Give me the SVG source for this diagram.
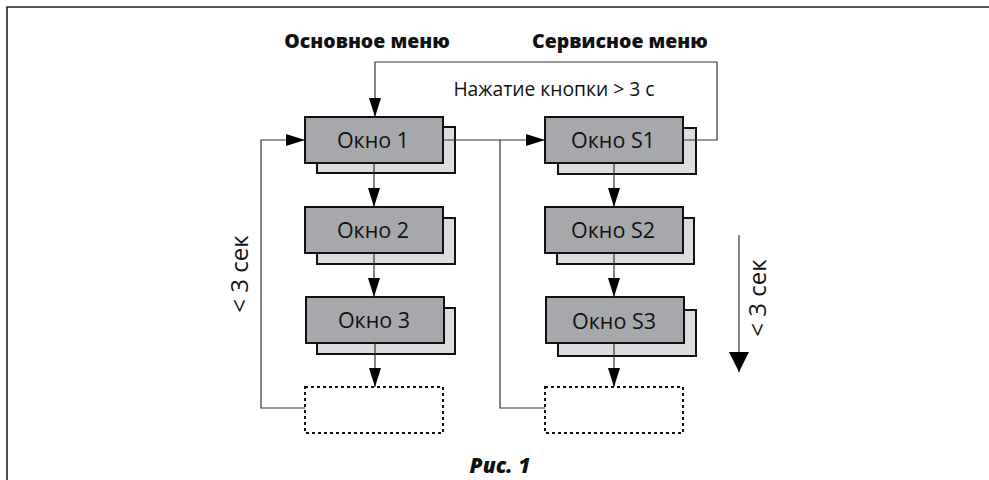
<svg xmlns="http://www.w3.org/2000/svg" width="989" height="480" viewBox="0 0 989 480">
  <style>
    .front { fill: #a7a8ab; stroke: #111; stroke-width: 2; }
    .back { fill: #dcdddf; stroke: #111; stroke-width: 2; }
    .empty { fill: #fff; stroke: #111; stroke-width: 2; stroke-dasharray: 3 3; }
    .wire { fill: none; stroke: #333; stroke-width: 1.2; }
    .lbl { font-family: "Open Sans", "Noto Sans", sans-serif; font-size: 21.5px; fill: #111; text-anchor: middle; }
    .side { font-family: "Open Sans", "Noto Sans", sans-serif; font-size: 24px; fill: #111; text-anchor: middle; }
    .note { font-family: "Open Sans", "Noto Sans", sans-serif; font-size: 19.3px; fill: #111; text-anchor: middle; }
    .title { font-family: "Open Sans", "Noto Sans", sans-serif; font-size: 19.5px; font-weight: 800; fill: #111; text-anchor: middle; }
    .cap { font-family: "Open Sans", "Noto Sans", sans-serif; font-size: 21px; font-weight: 800; font-style: italic; fill: #111; text-anchor: middle; }
  </style>
  <defs>
    <marker id="arr" markerUnits="userSpaceOnUse" markerWidth="19" markerHeight="12" refX="19" refY="6" orient="auto">
      <path d="M0,0 L19,6 L0,12 z" fill="#000"/>
    </marker>
    <marker id="arrBig" markerUnits="userSpaceOnUse" markerWidth="20" markerHeight="20" refX="20" refY="10" orient="auto">
      <path d="M0,0 L20,10 L0,20 z" fill="#000"/>
    </marker>
  </defs>

  <rect width="989" height="480" fill="#fff"/>
  <!-- outer frame -->
  <path d="M7,480 V7 H989" fill="none" stroke="#222" stroke-width="1.6"/>

  <!-- column titles -->
  <text class="title" x="367" y="48">Основное меню</text>
  <text class="title" x="620" y="48">Сервисное меню</text>

  <!-- main menu windows -->
  <g id="w1">
    <rect class="back" x="317" y="127" width="138" height="46"/>
    <rect class="front" x="305" y="117" width="138" height="46"/>
    <text class="lbl" x="373" y="148">Окно 1</text>
  </g>
  <g id="w2">
    <rect class="back" x="317" y="218" width="138" height="46"/>
    <rect class="front" x="305" y="207" width="138" height="46"/>
    <text class="lbl" x="373" y="238">Окно 2</text>
  </g>
  <g id="w3">
    <rect class="back" x="317" y="308" width="138" height="46"/>
    <rect class="front" x="306" y="297" width="138" height="46"/>
    <text class="lbl" x="374" y="328">Окно 3</text>
  </g>
  <g id="wEnd">
    <rect class="empty" x="305" y="387" width="138" height="46"/>
  </g>

  <!-- service menu windows -->
  <g id="s1">
    <rect class="back" x="558" y="128" width="138" height="46"/>
    <rect class="front" x="545" y="117" width="138" height="46"/>
    <text class="lbl" x="613" y="148">Окно S1</text>
  </g>
  <g id="s2">
    <rect class="back" x="557" y="218" width="137" height="46"/>
    <rect class="front" x="545" y="207" width="138" height="46"/>
    <text class="lbl" x="613" y="238">Окно S2</text>
  </g>
  <g id="s3">
    <rect class="back" x="558" y="310" width="138" height="46"/>
    <rect class="front" x="546" y="297" width="138" height="46"/>
    <text class="lbl" x="614" y="329">Окно S3</text>
  </g>
  <g id="sEnd">
    <rect class="empty" x="545" y="387" width="138" height="46"/>
  </g>

  <!-- connectors -->
  <g id="connectors">
    <path class="wire" d="M374,163 V207" marker-end="url(#arr)"/>
    <path class="wire" d="M374,253 V297" marker-end="url(#arr)"/>
    <path class="wire" d="M375,343 V387" marker-end="url(#arr)"/>
    <path class="wire" d="M614,163 V207" marker-end="url(#arr)"/>
    <path class="wire" d="M614,253 V297" marker-end="url(#arr)"/>
    <path class="wire" d="M614,343 V387" marker-end="url(#arr)"/>
    <!-- return loop of the main menu -->
    <path class="wire" d="M305,408 H261 V140 H305" marker-end="url(#arr)"/>
    <!-- main menu to service menu -->
    <path class="wire" d="M443,140 H545" marker-end="url(#arr)"/>
    <!-- return loop of the service menu -->
    <path class="wire" d="M545,408 H500 V140"/>
    <!-- long press back to window 1 -->
    <path class="wire" d="M683,140 H717 V62 H375 V117" marker-end="url(#arr)"/>
    <!-- direction of short presses -->
    <path class="wire" d="M739,235 V372" marker-end="url(#arrBig)"/>
  </g>

  <!-- labels -->
  <text class="note" x="554" y="96">Нажатие кнопки &gt; 3 с</text>
  <text class="side" transform="translate(248,274) rotate(-90)">&lt; 3 сек</text>
  <text class="side" transform="translate(766,298) rotate(-90)">&lt; 3 сек</text>
  <text class="cap" x="500" y="473">Рис. 1</text>
</svg>
